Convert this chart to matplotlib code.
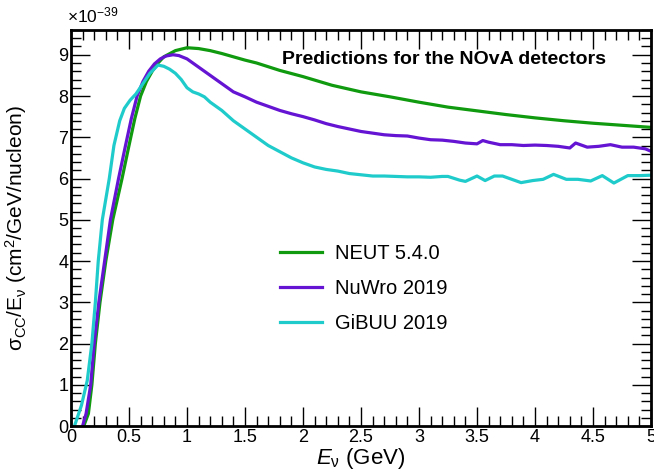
import matplotlib
matplotlib.use('Agg')
import matplotlib.pyplot as plt
from matplotlib.ticker import MultipleLocator

plt.rcParams['font.family'] = 'Liberation Sans'
plt.rcParams['mathtext.fontset'] = 'custom'
plt.rcParams['mathtext.rm'] = 'Liberation Sans'
plt.rcParams['mathtext.it'] = 'Liberation Sans:italic'

# NEUT 5.4.0
neut_e = [0.11, 0.15, 0.18, 0.21, 0.25, 0.3, 0.36, 0.44, 0.5, 0.55, 0.6, 0.65, 0.7, 0.75,
          0.8, 0.9, 1.0, 1.1, 1.2, 1.3, 1.4, 1.5, 1.6, 1.8, 2.0, 2.25, 2.5, 2.75, 3.0,
          3.25, 3.5, 3.75, 4.0, 4.25, 4.5, 4.75, 5.0]
neut_xs = [0, 0.3, 1.0, 2.0, 3.0, 4.0, 5.0, 6.0, 6.8, 7.45, 8.0, 8.35, 8.6, 8.8,
           8.95, 9.1, 9.17, 9.15, 9.1, 9.03, 8.95, 8.87, 8.8, 8.62, 8.47, 8.26, 8.1, 7.98, 7.85,
           7.73, 7.64, 7.55, 7.47, 7.40, 7.34, 7.29, 7.24]

# NuWro 2019
nuwro_e = [0.1, 0.13, 0.17, 0.2, 0.24, 0.29, 0.34, 0.41, 0.47, 0.52, 0.57, 0.62, 0.67, 0.72,
           0.77, 0.82, 0.88, 0.93, 1.0, 1.1, 1.2, 1.3, 1.4, 1.5, 1.6, 1.7, 1.8, 1.9, 2.0,
           2.1, 2.2, 2.3, 2.4, 2.5, 2.6, 2.7, 2.8, 2.9, 3.0, 3.1, 3.2, 3.3, 3.4, 3.5,
           3.55, 3.6, 3.7, 3.8, 3.9, 4.0, 4.1, 4.2, 4.3, 4.35, 4.45, 4.55, 4.65, 4.75,
           4.85, 4.95, 5.0]
nuwro_xs = [0, 0.3, 1.0, 2.0, 3.0, 4.0, 5.0, 6.0, 6.8, 7.45, 8.0, 8.35, 8.6, 8.78,
            8.9, 8.97, 9.0, 8.98, 8.9, 8.7, 8.5, 8.3, 8.1, 7.98, 7.85, 7.75, 7.65, 7.57, 7.5,
            7.42, 7.33, 7.26, 7.2, 7.14, 7.1, 7.06, 7.04, 7.03, 6.98, 6.94, 6.93, 6.9, 6.86, 6.84,
            6.92, 6.88, 6.82, 6.82, 6.8, 6.81, 6.8, 6.78, 6.74, 6.86, 6.76, 6.78, 6.82, 6.76,
            6.76, 6.72, 6.66]

# GiBUU 2019
gibuu_e = [0.03, 0.09, 0.14, 0.18, 0.21, 0.235, 0.27, 0.33, 0.37, 0.42, 0.46, 0.51, 0.56,
           0.62, 0.68, 0.75, 0.8, 0.85, 0.9, 0.95, 1.0, 1.05, 1.1, 1.15, 1.2, 1.3, 1.4, 1.5,
           1.6, 1.7, 1.8, 1.9, 2.0, 2.1, 2.2, 2.3, 2.4, 2.5, 2.6, 2.7, 2.8, 2.9, 3.0, 3.1,
           3.2, 3.25, 3.35, 3.4, 3.5, 3.57, 3.65, 3.72, 3.8, 3.88, 3.98, 4.07, 4.16, 4.27,
           4.37, 4.48, 4.58, 4.68, 4.8, 4.9, 5.0]
gibuu_xs = [0, 0.5, 1.1, 2.0, 3.0, 4.0, 5.0, 6.0, 6.8, 7.4, 7.7, 7.9, 8.05,
            8.3, 8.55, 8.75, 8.72, 8.65, 8.55, 8.4, 8.2, 8.1, 8.05, 7.98, 7.85, 7.65, 7.4, 7.2,
            7.0, 6.8, 6.65, 6.5, 6.38, 6.28, 6.22, 6.18, 6.12, 6.09, 6.06, 6.06, 6.05, 6.04, 6.04, 6.03,
            6.05, 6.05, 5.96, 5.93, 6.06, 5.95, 6.06, 6.06, 5.98, 5.9, 5.95, 5.98, 6.1, 5.98,
            5.98, 5.94, 6.07, 5.89, 6.07, 6.07, 6.08]

fig = plt.figure(figsize=(6.54, 4.69), dpi=100)
ax = fig.add_axes([71 / 654, 43 / 469, 580 / 654, 396 / 469])

ax.plot(neut_e, neut_xs, color='#0f9a0f', lw=2.3, label='NEUT 5.4.0')
ax.plot(nuwro_e, nuwro_xs, color='#6414d2', lw=2.3, label='NuWro 2019')
ax.plot(gibuu_e, gibuu_xs, color='#1fcbcb', lw=2.3, label='GiBUU 2019')

ax.set_xlim(0, 5)
ax.set_ylim(0, 9.6)
ax.xaxis.set_major_locator(MultipleLocator(0.5))
ax.xaxis.set_minor_locator(MultipleLocator(0.1))
ax.yaxis.set_major_locator(MultipleLocator(1))
ax.yaxis.set_minor_locator(MultipleLocator(0.2))
ax.set_xticks([0, 0.5, 1, 1.5, 2, 2.5, 3, 3.5, 4, 4.5, 5])
ax.set_xticklabels(['0', '0.5', '1', '1.5', '2', '2.5', '3', '3.5', '4', '4.5', '5'])
ax.tick_params(which='both', direction='in', top=True, right=True, labelsize=13, width=1)
ax.tick_params(which='major', length=14, pad=2)
ax.tick_params(which='minor', length=7)
for s in ax.spines.values():
    s.set_linewidth(2)

ax.set_xlabel(r'$\mathit{E}_{\mathrm{ν}}$ (GeV)', fontsize=16, labelpad=0)
ax.set_ylabel(r'σ$_{\mathrm{CC}}$/E$_{\mathrm{ν}}$ (cm$^{2}$/GeV/nucleon)', fontsize=15)
ax.yaxis.set_label_coords(-0.072, 0.5)

fig.text(0.102, 0.952, r'$\times$10$^{-39}$', fontsize=12.5)
ax.text(0.922, 0.925, 'Predictions for the NOvA detectors', transform=ax.transAxes,
        ha='right', va='center', fontsize=14, fontweight='bold')

ax.legend(loc='upper left', bbox_to_anchor=(0.36, 0.46), frameon=False, fontsize=14.5,
          handlelength=2.1, labelspacing=0.8, handletextpad=0.65,
          borderpad=0, borderaxespad=0)

fig.savefig('out.png', dpi=100)
